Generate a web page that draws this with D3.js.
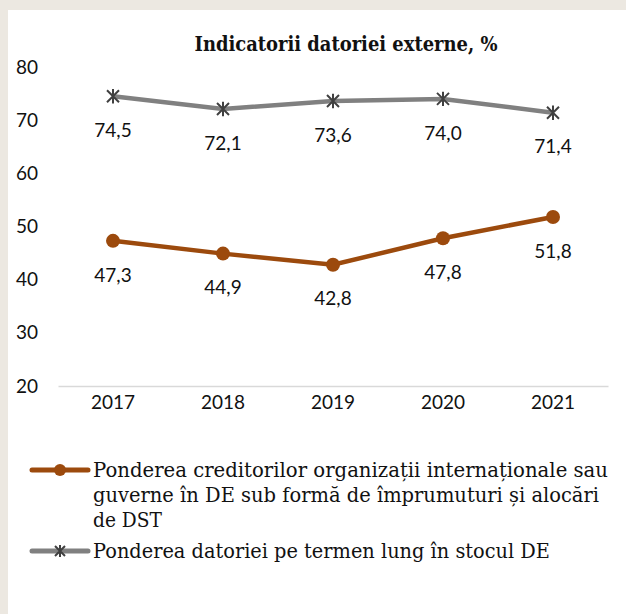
<!DOCTYPE html>
<html><head><meta charset="utf-8">
<script src="https://cdn.jsdelivr.net/npm/d3@7"></script>
<style>body{margin:0;background:#ece8e1;}svg{display:block;}</style>
</head><body>
<svg id="chart" width="626" height="614"></svg>
<script>
const title = "Indicatorii datoriei externe, %";
const years = ["2017","2018","2019","2020","2021"];
const creditori = [47.3, 44.9, 42.8, 47.8, 51.8];
const termenLung = [74.5, 72.1, 73.6, 74.0, 71.4];
const yTicks = [20,30,40,50,60,70,80];
const legendCreditori = ["Ponderea creditorilor organizații internaționale sau","guverne în DE sub formă de împrumuturi și alocări","de DST"];
const legendTermen = ["Ponderea datoriei pe termen lung în stocul DE"];

const svg = d3.select("#chart");
const serif = "'DejaVu Serif', serif";
const sans = "Lato, 'Open Sans', sans-serif";
const orange = "#9c4a0d", gray = "#808080", starCol = "#404040";

svg.append("rect").attr("x",8).attr("y",10).attr("width",618).attr("height",604).attr("fill","#fff");

const x = d3.scaleBand().domain(years).range([58,608]);
const y = d3.scaleLinear().domain([20,80]).range([386,67]);

function fitText(sel, w){
  const n = sel.node();
  const cur = n.getComputedTextLength();
  if (cur > 0) sel.attr("textLength", w).attr("lengthAdjust","spacingAndGlyphs");
}

const t = svg.append("text").attr("x",346).attr("y",51).attr("text-anchor","middle")
  .attr("font-family",serif).attr("font-weight","bold").attr("font-size",21).attr("fill","#111").text(title);
fitText(t, 303);

// y axis labels
const ya = svg.append("g").attr("transform","translate(38,0)")
  .call(d3.axisLeft(y).tickValues(yTicks).tickSize(0).tickPadding(0).tickFormat(d3.format("d")));
ya.select(".domain").remove();
ya.selectAll("text").attr("font-family",sans).attr("font-size",19).attr("fill","#111");

// x axis
const xa = svg.append("g").attr("transform","translate(0,386)")
  .call(d3.axisBottom(x).tickSize(0).tickPadding(10));
xa.select(".domain").attr("stroke","#d9d9d9").attr("stroke-width",1.5);
xa.selectAll("text").attr("font-family",sans).attr("font-size",19).attr("fill","#111");

const cx = d => x(d) + x.bandwidth()/2;
const line = vals => d3.line().x((d,i)=>cx(years[i])).y(d=>y(d))(vals);

svg.append("path").attr("d",line(termenLung)).attr("fill","none").attr("stroke",gray).attr("stroke-width",4.5);
svg.append("path").attr("d",line(creditori)).attr("fill","none").attr("stroke",orange).attr("stroke-width",4.5);

function star(g, px, py, s){
  g.append("path").attr("d",`M${px-s},${py-s}L${px+s},${py+s}M${px-s},${py+s}L${px+s},${py-s}M${px},${py-s*1.2}L${px},${py+s*1.2}`)
   .attr("stroke",starCol).attr("stroke-width",2).attr("fill","none");
}
const gs = svg.append("g");
termenLung.forEach((v,i)=>star(gs, cx(years[i]), y(v), 6));
svg.append("g").selectAll("circle").data(creditori).join("circle")
  .attr("cx",(d,i)=>cx(years[i])).attr("cy",d=>y(d)).attr("r",7).attr("fill",orange);

const fmt = v => d3.format(".1f")(v).replace(".",",");
[termenLung, creditori].forEach(vals=>{
  svg.append("g").selectAll("text").data(vals).join("text")
    .attr("x",(d,i)=>cx(years[i])).attr("y",d=>y(d)+34).attr("dy","0.35em")
    .attr("text-anchor","middle").attr("font-family",sans).attr("font-size",19).attr("fill","#111")
    .text(fmt);
});

// legend
function legendItem(ly, color, marker, lines, widths){
  const g = svg.append("g");
  g.append("line").attr("x1",32).attr("x2",88).attr("y1",ly).attr("y2",ly).attr("stroke",color).attr("stroke-width",5).attr("stroke-linecap","round");
  if(marker==="circle") g.append("circle").attr("cx",60).attr("cy",ly).attr("r",6).attr("fill",color);
  else star(g,60,ly,5);
  lines.forEach((s,i)=>{
    const tt = g.append("text").attr("x",93).attr("y",ly+7+i*25)
      .attr("font-family",serif).attr("font-size",21).attr("fill","#111").text(s);
    fitText(tt, widths[i]);
  });
}
legendItem(470, orange, "circle", legendCreditori, [515, 506, 69]);
legendItem(551, gray, "star", legendTermen, [457]);
</script>
</body></html>
